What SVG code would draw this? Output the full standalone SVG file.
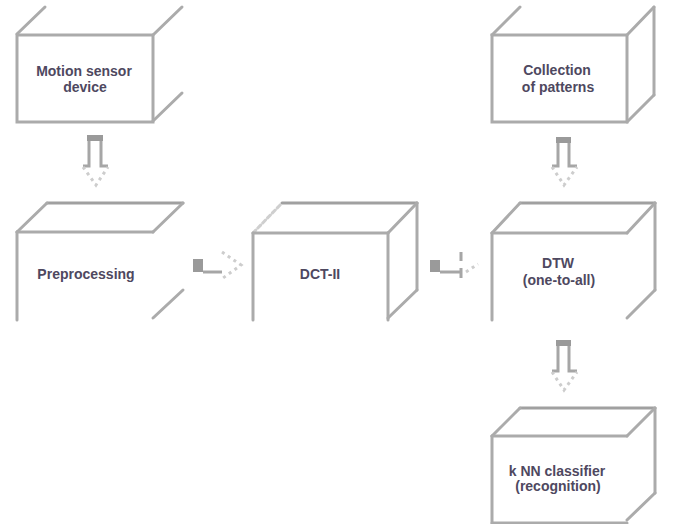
<svg xmlns="http://www.w3.org/2000/svg" width="677" height="524" viewBox="0 0 677 524">
  <style>
    .edge { stroke: #ababab; stroke-width: 3; fill: none; stroke-linecap: round; }
    .back { stroke: #a0a0a0; }
    .faint { stroke: #cfcfcf; stroke-dasharray: 4 3; }
    .label { font-family: "Liberation Sans", Arial, sans-serif; font-size: 14px; font-weight: bold; fill: #4e4860; text-anchor: middle; }
    .shaft { stroke: #a6a6a6; stroke-width: 3; fill: none; }
    .cap { fill: #9a9a9a; }
    .head { stroke: #cdcdcd; stroke-width: 3; fill: none; stroke-dasharray: 3 4; }
  </style>
  <rect width="677" height="524" fill="#ffffff"/>

  <!-- Motion sensor device -->
  <g id="motion-sensor">
    <rect class="edge" x="17" y="35" width="136" height="87"/>
    <line class="edge" x1="17" y1="34" x2="45" y2="7"/>
    <line class="edge" x1="153" y1="35" x2="182" y2="7"/>
    <line class="edge" x1="153" y1="121" x2="182" y2="93"/>
    <text class="label" x="84" y="76">Motion sensor</text>
    <text class="label" x="85" y="92">device</text>
  </g>

  <!-- Collection of patterns -->
  <g id="collection">
    <rect class="edge" x="492" y="35" width="135" height="87"/>
    <line class="edge" x1="492" y1="35" x2="520" y2="7"/>
    <line class="edge" x1="627" y1="35" x2="654" y2="7"/>
    <line class="edge" x1="654" y1="7" x2="654" y2="95"/>
    <line class="edge" x1="654" y1="95" x2="627" y2="122"/>
    <text class="label" x="557" y="75">Collection</text>
    <text class="label" x="558" y="92">of patterns</text>
  </g>

  <!-- Preprocessing -->
  <g id="preprocessing">
    <line class="edge back" x1="47" y1="203" x2="183" y2="203"/>
    <line class="edge" x1="17" y1="232" x2="47" y2="203"/>
    <line class="edge" x1="17" y1="232" x2="153" y2="232"/>
    <line class="edge" x1="153" y1="232" x2="183" y2="203"/>
    <line class="edge" x1="17" y1="232" x2="17" y2="320"/>
    <line class="edge" x1="153" y1="318" x2="183" y2="290"/>
    <text class="label" x="86" y="279">Preprocessing</text>
  </g>

  <!-- DCT-II -->
  <g id="dct">
    <line class="edge back" x1="282" y1="203" x2="417" y2="203"/>
    <line class="edge faint" x1="253" y1="233" x2="282" y2="203"/>
    <line class="edge" x1="253" y1="233" x2="388" y2="233"/>
    <line class="edge" x1="388" y1="233" x2="417" y2="203"/>
    <line class="edge" x1="253" y1="233" x2="253" y2="320"/>
    <line class="edge" x1="388" y1="233" x2="388" y2="320"/>
    <line class="edge" x1="417" y1="203" x2="417" y2="290"/>
    <line class="edge" x1="417" y1="290" x2="388" y2="318"/>
    <text class="label" x="320" y="279">DCT-II</text>
  </g>

  <!-- DTW -->
  <g id="dtw">
    <line class="edge back" x1="520" y1="203" x2="655" y2="203"/>
    <line class="edge" x1="492" y1="233" x2="520" y2="203"/>
    <line class="edge" x1="492" y1="233" x2="627" y2="233"/>
    <line class="edge" x1="627" y1="233" x2="655" y2="203"/>
    <line class="edge" x1="492" y1="233" x2="492" y2="320"/>
    <line class="edge" x1="655" y1="203" x2="655" y2="290"/>
    <line class="edge" x1="655" y1="290" x2="627" y2="318"/>
    <text class="label" x="558" y="268">DTW</text>
    <text class="label" x="559" y="285">(one-to-all)</text>
  </g>

  <!-- k-NN classifier -->
  <g id="knn">
    <line class="edge back" x1="520" y1="408" x2="655" y2="408"/>
    <line class="edge" x1="492" y1="436" x2="520" y2="408"/>
    <line class="edge" x1="492" y1="436" x2="627" y2="436"/>
    <line class="edge" x1="627" y1="436" x2="655" y2="408"/>
    <line class="edge" x1="492" y1="436" x2="492" y2="523"/>
    <line class="edge" x1="492" y1="523" x2="627" y2="523"/>
    <line class="edge" x1="655" y1="408" x2="655" y2="493"/>
    <line class="edge" x1="655" y1="493" x2="627" y2="520"/>
    <text class="label" x="557" y="476">k NN classifier</text>
    <text class="label" x="558" y="491">(recognition)</text>
  </g>

  <!-- block arrows between stages -->
  <g id="connectors">
    <!-- motion sensor -> preprocessing -->
    <rect class="cap" x="87" y="135" width="16" height="6"/>
    <path class="shaft" d="M89,141 V166 H83 M101,141 V166 H108"/>
    <path class="head" d="M83,167 L96,185 L108,167"/>

    <!-- collection -> DTW -->
    <rect class="cap" x="556" y="137" width="15" height="6"/>
    <path class="shaft" d="M558,143 V166 H552 M569,143 V166 H577"/>
    <path class="head" d="M552,167 L564,185 L577,167"/>

    <!-- DTW -> classifier -->
    <rect class="cap" x="556" y="340" width="15" height="6"/>
    <path class="shaft" d="M558,346 V371 H552 M569,346 V371 H577"/>
    <path class="head" d="M552,372 L564,390 L577,372"/>

    <!-- preprocessing -> DCT-II -->
    <rect class="cap" x="193" y="259" width="10" height="13"/>
    <path class="shaft" d="M203,272 H222"/>
    <path class="head" d="M222,252 L241,265 L223,278"/>

    <!-- DCT-II -> DTW -->
    <rect class="cap" x="430" y="260" width="10" height="12"/>
    <path class="shaft" d="M440,272 H461 M461,252 V261 M461,268 V278"/>
    <path class="head" d="M466,272 L478,264"/>
  </g>
</svg>
